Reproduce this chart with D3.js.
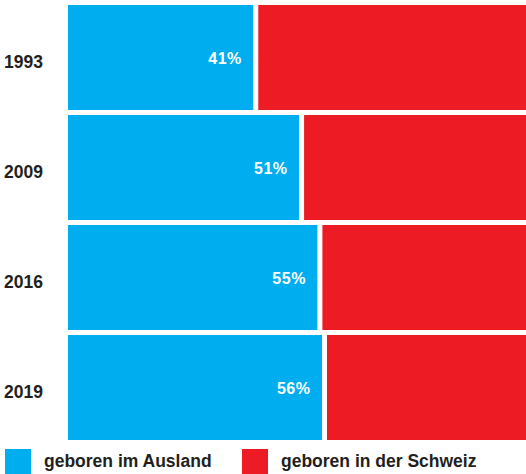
<!DOCTYPE html>
<html>
<head>
<meta charset="utf-8">
<script src="https://cdn.jsdelivr.net/npm/d3@7"></script>
<style>
  body { margin: 0; background: #fff; }
  text { font-family: "Liberation Sans", Arial, Helvetica, sans-serif; font-weight: bold; }
</style>
</head>
<body>
<script>
var years = ['1993', '2009', '2016', '2019'];
var ausland = [41, 51, 55, 56];
var schweiz = [59, 49, 45, 44];
var seriesNames = ['geboren im Ausland', 'geboren in der Schweiz'];
var colors = ['#00aeef', '#ed1c24'];

var width = 526, height = 474;
var svg = d3.select('body').append('svg').attr('width', width).attr('height', height);

var x = d3.scaleLinear().domain([0, 100]).range([68, 526]);
var y = d3.scaleBand().domain(years).range([2.5, 442.5])
    .paddingInner(0.0455).paddingOuter(0.02275);
var gap = 2.5;

var rows = years.map(function(d, i) {
    return { year: d, a: ausland[i], s: schweiz[i] };
});

// blue part
svg.selectAll('rect.aus')
    .data(rows)
    .enter()
    .append('rect')
    .attr('class', 'aus')
    .attr('x', x(0))
    .attr('y', function(d) { return y(d.year); })
    .attr('width', function(d) { return x(d.a) - x(0) - gap; })
    .attr('height', y.bandwidth())
    .attr('fill', colors[0]);

// red part
svg.selectAll('rect.ch')
    .data(rows)
    .enter()
    .append('rect')
    .attr('class', 'ch')
    .attr('x', function(d) { return x(d.a) + gap; })
    .attr('y', function(d) { return y(d.year); })
    .attr('width', function(d) { return x(d.a + d.s) - x(d.a) - gap; })
    .attr('height', y.bandwidth())
    .attr('fill', colors[1]);

// percent labels
svg.selectAll('text.pct')
    .data(rows)
    .enter()
    .append('text')
    .attr('class', 'pct')
    .attr('x', function(d) { return x(d.a) - 14; })
    .attr('y', function(d) { return y(d.year) + y.bandwidth() / 2 + 6.5; })
    .attr('text-anchor', 'end')
    .attr('fill', '#fff')
    .style('font-size', '16px')
    .style('letter-spacing', '0.5px')
    .text(function(d) { return d.a + '%'; });

// year labels
svg.selectAll('text.year')
    .data(rows)
    .enter()
    .append('text')
    .attr('class', 'year')
    .attr('x', 4)
    .attr('y', function(d) { return y(d.year) + y.bandwidth() / 2 + 10; })
    .attr('fill', '#231f20')
    .style('font-size', '17.5px')
    .text(function(d) { return d.year; });

// legend
var legendX = [5, 242];
var legend = svg.selectAll('g.legend')
    .data(seriesNames)
    .enter()
    .append('g')
    .attr('class', 'legend')
    .attr('transform', function(d, i) { return 'translate(' + legendX[i] + ',449)'; });

legend.append('rect')
    .attr('width', 26)
    .attr('height', 25)
    .attr('fill', function(d, i) { return colors[i]; });

legend.append('text')
    .attr('x', 39)
    .attr('y', 18)
    .attr('fill', '#231f20')
    .style('font-size', '17.5px')
    .text(function(d) { return d; });
</script>
</body>
</html>
